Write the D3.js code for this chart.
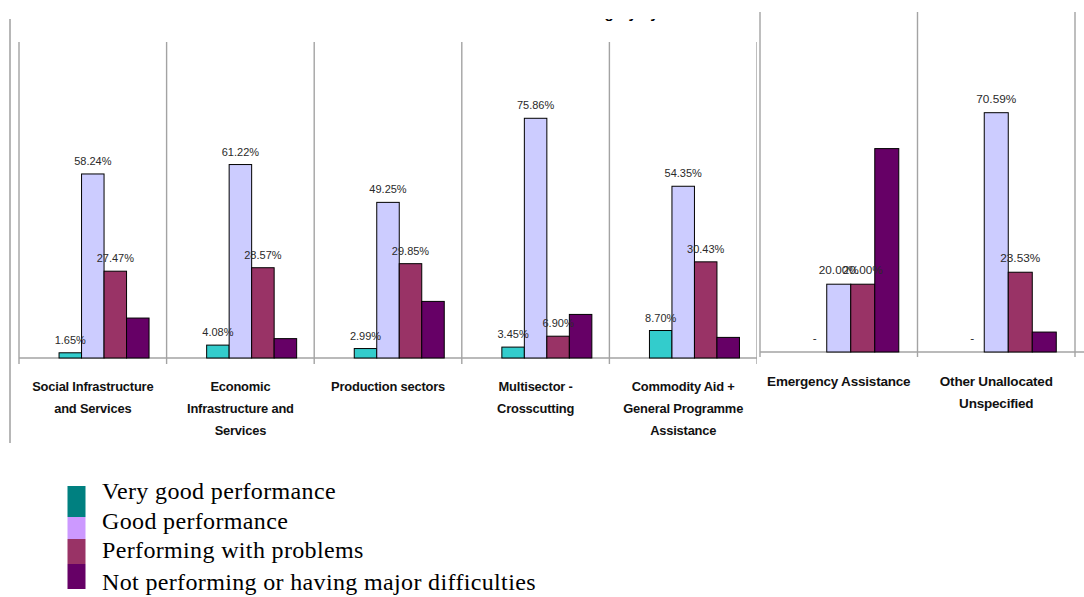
<!DOCTYPE html>
<html>
<head>
<meta charset="utf-8">
<script src="https://cdn.jsdelivr.net/npm/d3@7"></script>
<style>
  html, body { margin: 0; padding: 0; background: #fff; }
  svg { display: block; }
</style>
</head>
<body>
<svg id="chart" width="1084" height="597"></svg>
<script>
// ---------------- DATA ----------------
const categories = [
  "Social Infrastructure and Services",
  "Economic Infrastructure and Services",
  "Production sectors",
  "Multisector - Crosscutting",
  "Commodity Aid + General Programme Assistance",
  "Emergency Assistance",
  "Other Unallocated Unspecified"
];
const categoryLines = [
  ["Social Infrastructure", "and Services"],
  ["Economic", "Infrastructure and", "Services"],
  ["Production sectors"],
  ["Multisector -", "Crosscutting"],
  ["Commodity Aid +", "General Programme", "Assistance"],
  ["Emergency Assistance"],
  ["Other Unallocated", "Unspecified"]
];
const seriesNames = [
  "Very good performance",
  "Good performance",
  "Performing with problems",
  "Not performing or having major difficulties"
];
const veryGood      = [1.65, 4.08, 2.99, 3.45, 8.70, 0, 0];
const good          = [58.24, 61.22, 49.25, 75.86, 54.35, 20.00, 70.59];
const withProblems  = [27.47, 28.57, 29.85, 6.90, 30.43, 20.00, 23.53];
const notPerforming = [12.64, 6.13, 17.91, 13.79, 6.52, 60.00, 5.88];
const labelledSeries = [true, true, true, false];
const yTicks = [0, 100];
const titleText = "Performance Category by Sector";

const barFills    = ["#33CCCC", "#CCCCFF", "#993366", "#660066"];
const legendFills = ["#008080", "#CC99FF", "#993366", "#660066"];

// ---------------- BUILD ----------------
const values = [veryGood, good, withProblems, notPerforming];
const rows = categories.map((c, i) => ({
  cat: c, lines: categoryLines[i],
  vals: values.map((s, k) => ({ key: "s" + k, k, v: s[i] }))
}));
const slotKeys = ["pad", "s0", "s1", "s2", "s3"];  // first slot left empty (as in original)

const svg = d3.select("#chart");

function drawChart(g, data, cfg) {
  const x = d3.scaleBand().domain(data.map(d => d.cat)).range(cfg.xRange).paddingInner(0).paddingOuter(0);
  const xi = d3.scaleBand().domain(slotKeys).range([0, x.bandwidth()]).paddingInner(0).paddingOuter(0.78);
  const y = d3.scaleLinear().domain([yTicks[0], yTicks[1]]).range(cfg.yRange);
  const base = y(0);

  const bounds = data.map(d => x(d.cat)).concat([x(data[data.length - 1].cat) + x.bandwidth()]);
  g.append("g").selectAll("line").data(bounds).join("line")
    .attr("x1", d => d).attr("x2", d => d)
    .attr("y1", cfg.lineTop).attr("y2", base + cfg.tick)
    .attr("stroke", "#a3a3a3").attr("stroke-width", 1.4);
  g.append("line")
    .attr("x1", cfg.xRange[0]).attr("x2", cfg.baseEnd)
    .attr("y1", base).attr("y2", base)
    .attr("stroke", "#a3a3a3").attr("stroke-width", 1.4);

  const groups = g.append("g").selectAll("g").data(data).join("g")
    .attr("transform", d => `translate(${x(d.cat)},0)`);

  groups.selectAll("rect").data(d => d.vals.filter(v => v.v > 0)).join("rect")
    .attr("x", d => xi(d.key)).attr("width", xi.bandwidth())
    .attr("y", d => y(d.v)).attr("height", d => base - y(d.v))
    .attr("fill", d => barFills[d.k]).attr("stroke", "#000").attr("stroke-width", 1);

  groups.selectAll("text.val").data(d => d.vals.filter(v => labelledSeries[v.k])).join("text")
    .attr("class", "val")
    .attr("x", d => xi(d.key) + xi.bandwidth() / 2)
    .attr("y", d => y(d.v) - cfg.labelGap)
    .attr("text-anchor", "middle")
    .attr("font-family", "Liberation Sans, Arial, sans-serif")
    .attr("font-size", cfg.valSize)
    .attr("fill", "#2a2a2a")
    .text(d => d.v === 0 ? "-" : d3.format(".2f")(d.v) + "%");

  const labs = g.append("g").selectAll("text").data(data).join("text")
    .attr("x", d => x(d.cat) + x.bandwidth() / 2)
    .attr("y", base + cfg.catGap)
    .attr("text-anchor", "middle")
    .attr("font-family", "Liberation Sans, Arial, sans-serif")
    .attr("font-weight", "bold")
    .attr("font-size", cfg.catSize)
    .attr("letter-spacing", cfg.catLs)
    .attr("fill", "#111");
  labs.selectAll("tspan").data(d => d.lines.map(l => ({ l, cx: x(d.cat) + x.bandwidth() / 2 }))).join("tspan")
    .attr("x", d => d.cx)
    .attr("dy", (d, i) => i === 0 ? 0 : 22)
    .text(d => d.l);
}

// Left chart (first five sectors)
const left = svg.append("g");
// title: only its descenders are visible in the original (upper part hidden)
const title = left.append("text")
  .attr("x", 0).attr("y", 18)
  .attr("font-family", "Liberation Sans, Arial, sans-serif")
  .attr("font-weight", "bold").attr("font-size", 15)
  .text(titleText);
try {
  const gi = titleText.indexOf("g");
  const ext = title.node().getExtentOfChar(gi);
  title.attr("x", 609 - (ext.x + ext.width / 2));
} catch (e) { title.attr("x", 520); }
left.append("rect").attr("x", 0).attr("y", 0).attr("width", 760).attr("height", 19).attr("fill", "#fff");

left.append("line").attr("x1", 10).attr("x2", 10).attr("y1", 19).attr("y2", 443)
  .attr("stroke", "#999").attr("stroke-width", 1.4);

drawChart(left.append("g"), rows.slice(0, 5), {
  xRange: [19, 757], yRange: [358, 42], lineTop: 42, tick: 6, baseEnd: 757,
  labelGap: 9, valSize: 11, catSize: 12.9, catLs: -0.2, catGap: 33
});

// Right chart (overlaid panel)
const right = svg.append("g");
right.append("rect").attr("x", 757).attr("y", 0).attr("width", 327).attr("height", 460).attr("fill", "#fff");
drawChart(right.append("g"), rows.slice(5), {
  xRange: [760, 1075], yRange: [352, 13], lineTop: 12, tick: 5, baseEnd: 1084,
  labelGap: 10, valSize: 11.8, catSize: 13.5, catLs: -0.2, catGap: 34
});

// Legend
const legendEdges = [486, 517, 539, 564, 589];
const legendBaselines = [499, 529, 558, 590];
const legend = svg.append("g");
legend.selectAll("rect").data(seriesNames).join("rect")
  .attr("x", 67.5).attr("width", 18)
  .attr("y", (d, i) => legendEdges[i])
  .attr("height", (d, i) => legendEdges[i + 1] - legendEdges[i])
  .attr("fill", (d, i) => legendFills[i]);
legend.selectAll("text").data(seriesNames).join("text")
  .attr("x", 102)
  .attr("y", (d, i) => legendBaselines[i])
  .attr("font-family", "Liberation Serif, Times New Roman, serif")
  .attr("font-size", 24)
  .attr("letter-spacing", 0.35)
  .attr("fill", "#000")
  .text(d => d);
</script>
</body>
</html>
